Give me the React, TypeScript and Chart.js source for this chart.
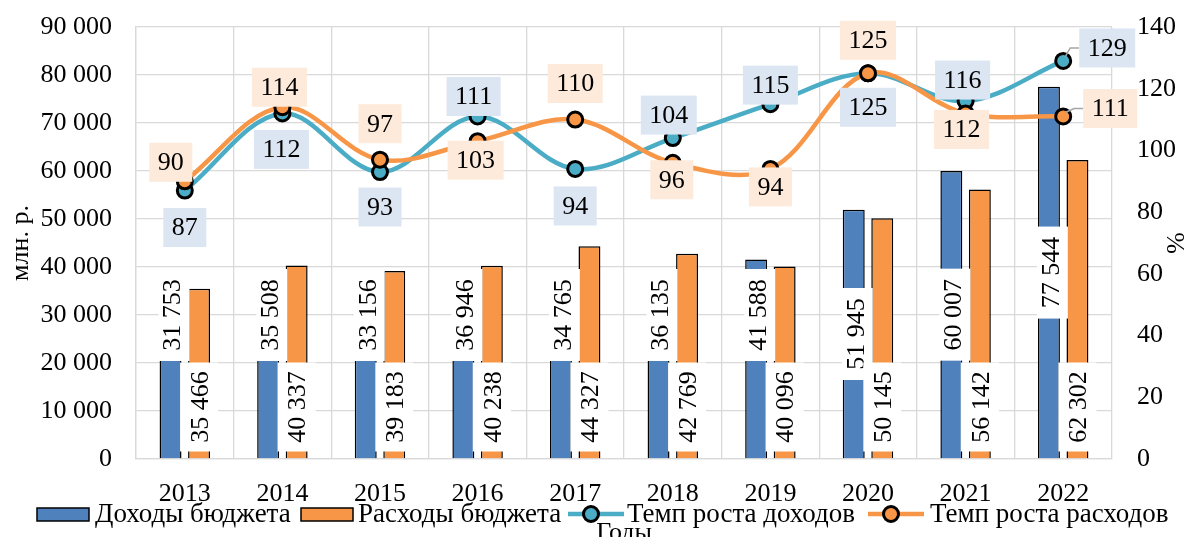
import React, { useEffect, useRef } from "react";
import { Chart, registerables } from "chart.js";

Chart.register(...registerables);

const years = ["2013", "2014", "2015", "2016", "2017", "2018", "2019", "2020", "2021", "2022"];
const incomes = [31753, 35508, 33156, 36946, 34765, 36135, 41588, 51945, 60007, 77544];
const expenses = [35466, 40337, 39183, 40238, 44327, 42769, 40096, 50145, 56142, 62302];
const incomeGrowth = [87, 112, 93, 111, 94, 104, 115, 125, 116, 129];
const expenseGrowth = [90, 114, 97, 103, 110, 96, 94, 125, 112, 111];
const leftAxis = { min: 0, max: 90000, step: 10000 };
const rightAxis = { min: 0, max: 140, step: 20 };

const legendNames = ["Доходы бюджета", "Расходы бюджета", "Темп роста доходов", "Темп роста расходов"];

// label placement (pixel shifts relative to the point), layout only
const expenseLabelShift = [[-14, -19], [-3, -20], [0, -36], [-2, 19], [0, -36], [-1, 17], [0, 18], [0, -33], [-4, 16], [47, -8]];
const incomeLabelShift = [[0, 37], [-1, 36], [0, 35], [-4, -20], [0, 37], [-4, -23], [0, -19], [0, 34], [-3, -21], [44, -13]];

const FONT = '"Liberation Serif", "Times New Roman", serif';
const FS = 26;
const BLUE = "#4F81BD";
const ORANGE = "#F79646";
const TEAL = "#4BACC6";
const GRID = "#D9D9D9";

const fmt = (n: number) => String(n).replace(/\B(?=(\d{3})+(?!\d))/g, " ");

const labelPlugin = {
  id: "customLabels",
  afterDatasetsDraw(chart: any) {
    const ctx: CanvasRenderingContext2D = chart.ctx;
    const area = chart.chartArea;
    ctx.save();
    ctx.font = `${FS}px ${FONT}`;
    ctx.textAlign = "center";
    ctx.textBaseline = "middle";

    // bar labels
    const m0 = chart.getDatasetMeta(0);
    const m1 = chart.getDatasetMeta(1);
    m0.data.forEach((bar: any, i: number) => {
      const w = bar.width;
      const mid = (bar.y + bar.base) / 2;
      const cy = mid < area.bottom - 119 ? mid : area.bottom - 144;
      const bx = bar.x - w / 2 - 1;
      const bw = w + 9;
      const bh = 92;
      ctx.fillStyle = "#FFFFFF";
      ctx.fillRect(bx, cy - bh / 2, bw, bh);
      ctx.save();
      ctx.translate(bar.x + 2, cy);
      ctx.rotate(-Math.PI / 2);
      ctx.fillStyle = "#000";
      ctx.fillText(fmt(incomes[i]), 0, 1);
      ctx.restore();
    });
    m1.data.forEach((bar: any, i: number) => {
      const cy = area.bottom - 52;
      const bw = 38;
      const bh = 89;
      ctx.fillStyle = "#FFFFFF";
      ctx.fillRect(bar.x - bw / 2, cy - bh / 2, bw, bh);
      ctx.save();
      ctx.translate(bar.x + 1, cy);
      ctx.rotate(-Math.PI / 2);
      ctx.fillStyle = "#000";
      ctx.fillText(fmt(expenses[i]), 0, 1);
      ctx.restore();
    });

    // line labels
    const drawLineLabels = (meta: any, values: number[], shifts: number[][], fill: string) => {
      meta.data.forEach((pt: any, i: number) => {
        const [dx, dy] = shifts[i];
        const cx = pt.x + dx;
        const cy = pt.y + dy;
        const text = String(values[i]);
        const tw = ctx.measureText(text).width;
        const bw = tw + 17;
        const bh = 39;
        if (Math.abs(dx) > 30) {
          const left = cx - bw / 2;
          ctx.strokeStyle = "#A6A6A6";
          ctx.lineWidth = 1.5;
          ctx.beginPath();
          ctx.moveTo(pt.x + 2, pt.y - 4);
          ctx.lineTo(left - 9, cy);
          ctx.lineTo(left, cy);
          ctx.stroke();
        }
        ctx.fillStyle = fill;
        ctx.fillRect(cx - bw / 2, cy - bh / 2, bw, bh);
        ctx.fillStyle = "#000";
        ctx.fillText(text, cx, cy + 1);
      });
    };
    drawLineLabels(chart.getDatasetMeta(2), incomeGrowth, incomeLabelShift, "#DCE6F2");
    drawLineLabels(chart.getDatasetMeta(3), expenseGrowth, expenseLabelShift, "#FDEADA");
    ctx.restore();
  },
  afterDraw(chart: any) {
    const ctx: CanvasRenderingContext2D = chart.ctx;
    const area = chart.chartArea;
    ctx.save();
    ctx.font = `${FS}px ${FONT}`;
    ctx.fillStyle = "#000";
    // x axis title (partly below the canvas like the reference)
    ctx.textAlign = "center";
    ctx.textBaseline = "alphabetic";
    ctx.fillText("Годы", (area.left + area.right) / 2, 540);

    // legend
    ctx.font = `27px ${FONT}`;
    const ly = 514;
    ctx.textAlign = "left";
    ctx.textBaseline = "middle";
    const rectItem = (x: number, color: string, text: string, tx: number) => {
      ctx.fillStyle = color;
      ctx.fillRect(x, ly - 6, 52, 13);
      ctx.strokeStyle = "#000";
      ctx.lineWidth = 1.5;
      ctx.strokeRect(x, ly - 6, 52, 13);
      ctx.fillStyle = "#000";
      ctx.fillText(text, tx, ly + 1);
    };
    const lineItem = (x: number, color: string, text: string, tx: number) => {
      ctx.strokeStyle = color;
      ctx.lineWidth = 4.5;
      ctx.beginPath();
      ctx.moveTo(x, ly);
      ctx.lineTo(x + 56, ly);
      ctx.stroke();
      ctx.beginPath();
      ctx.arc(x + 23, ly, 7.5, 0, Math.PI * 2);
      ctx.fillStyle = color;
      ctx.fill();
      ctx.strokeStyle = "#000";
      ctx.lineWidth = 3;
      ctx.stroke();
      ctx.fillStyle = "#000";
      ctx.fillText(text, tx, ly + 1);
    };
    rectItem(37, BLUE, legendNames[0], 95);
    rectItem(301, ORANGE, legendNames[1], 358);
    lineItem(568, TEAL, legendNames[2], 627);
    lineItem(868, ORANGE, legendNames[3], 930);
    ctx.restore();
  },
};

export default function App() {
  const ref = useRef<HTMLCanvasElement | null>(null);
  useEffect(() => {
    if (!ref.current) return;
    const font = { family: FONT, size: FS };
    const chart = new Chart(ref.current, {
      data: {
        labels: years,
        datasets: [
          {
            type: "bar",
            label: legendNames[0],
            data: incomes,
            backgroundColor: BLUE,
            borderColor: "#000",
            borderWidth: 1.5,
            yAxisID: "y",
            order: 2,
            categoryPercentage: 0.584,
            barPercentage: 0.77,
          },
          {
            type: "bar",
            label: legendNames[1],
            data: expenses,
            backgroundColor: ORANGE,
            borderColor: "#000",
            borderWidth: 1.5,
            yAxisID: "y",
            order: 2,
            categoryPercentage: 0.584,
            barPercentage: 0.77,
          },
          {
            type: "line",
            label: legendNames[2],
            data: incomeGrowth,
            borderColor: TEAL,
            borderWidth: 4.5,
            pointRadius: 7.5,
            pointBackgroundColor: TEAL,
            pointBorderColor: "#000",
            pointBorderWidth: 3,
            tension: 0.35,
            yAxisID: "y1",
            order: 1,
          },
          {
            type: "line",
            label: legendNames[3],
            data: expenseGrowth,
            borderColor: ORANGE,
            borderWidth: 4.5,
            pointRadius: 7.5,
            pointBackgroundColor: ORANGE,
            pointBorderColor: "#000",
            pointBorderWidth: 3,
            tension: 0.35,
            yAxisID: "y1",
            order: 0,
          },
        ],
      } as any,
      options: {
        responsive: false,
        animation: false,
        layout: { padding: { top: 27, left: 0, right: 0, bottom: 0 } },
        plugins: { legend: { display: false }, tooltip: { enabled: false } },
        scales: {
          x: {
            grid: { color: GRID, lineWidth: 1.3, drawTicks: false, offset: true },
            border: { color: GRID, width: 1.3 },
            ticks: { font, color: "#000", padding: 20 },
            afterFit: (s: any) => {
              s.height = 78;
            },
          },
          y: {
            position: "left",
            min: leftAxis.min,
            max: leftAxis.max,
            ticks: { stepSize: leftAxis.step, callback: (v: any) => fmt(Number(v)), padding: 2, font, color: "#000" },
            grid: { color: GRID, lineWidth: 1.3, drawTicks: true, tickLength: 22, tickColor: "rgba(0,0,0,0)" },
            border: { color: GRID, width: 1.3 },
            title: { display: true, text: "млн. р.", font, color: "#000", padding: { top: 6, bottom: 0 } },
            afterFit: (s: any) => {
              s.width = 136;
            },
          },
          y1: {
            position: "right",
            min: rightAxis.min,
            max: rightAxis.max,
            ticks: { stepSize: rightAxis.step, padding: 2, font, color: "#000" },
            grid: { display: true, drawOnChartArea: false, drawTicks: true, tickLength: 23, tickColor: "rgba(0,0,0,0)", color: "rgba(0,0,0,0)" },
            border: { display: false },
            title: { display: true, text: "%", font, color: "#000", padding: { top: 0, bottom: 0 } },
            afterFit: (s: any) => {
              s.width = 77;
            },
          },
        },
      } as any,
      plugins: [labelPlugin],
    });
    return () => chart.destroy();
  }, []);
  return (
    <div style={{ position: "fixed", left: 0, top: 0, width: 1189, height: 537, background: "#fff" }}>
      <canvas ref={ref} width={1189} height={537} style={{ display: "block", width: 1189, height: 537 }} />
    </div>
  );
}
